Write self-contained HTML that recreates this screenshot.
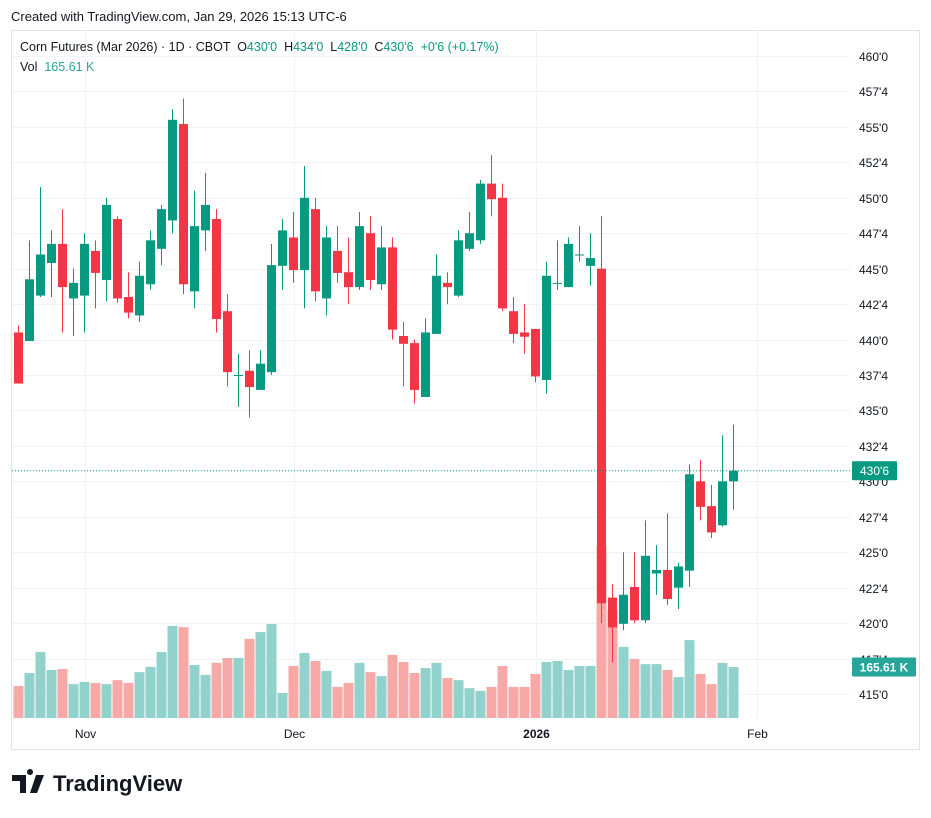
<!DOCTYPE html>
<html><head><meta charset="utf-8">
<style>
html,body{margin:0;padding:0;background:#fff;}
body{width:931px;height:818px;position:relative;overflow:hidden;font-family:"Liberation Sans",sans-serif;}
svg{position:absolute;left:0;top:0;}
text{white-space:pre;}
</style></head>
<body>
<svg id="chart" width="931" height="818" viewBox="0 0 931 818">
  <text x="11" y="21" font-size="13" fill="#131722">Created with TradingView.com, Jan 29, 2026 15:13 UTC-6</text>
  <rect x="11.5" y="30.5" width="908" height="719" fill="none" stroke="#e0e3eb"/>
  <g id="grid"></g>
  <g id="vol"></g>
  <g id="candles"></g>
  <g id="yaxis"></g>
  <g id="xaxis"></g>
  <text x="20" y="51" font-size="12.5" fill="#131722">Corn Futures (Mar 2026) · 1D · CBOT  <tspan>O</tspan><tspan fill="#089981">430'0</tspan>  H<tspan fill="#089981">434'0</tspan>  L<tspan fill="#089981">428'0</tspan>  C<tspan fill="#089981">430'6</tspan>  <tspan fill="#089981">+0'6 (+0.17%)</tspan></text>
  <text x="20" y="71" font-size="12.5" fill="#131722">Vol  <tspan fill="#26a69a">165.61 K</tspan></text>
  <g>
    <path d="M12 775h14v18h-6v-12h-8z M30 775a3 3 0 1 1 0.01 0z M36 775h8l-7 18h-7z" fill="#131722"/>
    <text x="53" y="791" font-size="22" font-weight="bold" fill="#131722">TradingView</text>
  </g>
</svg>
<script>
const opens=[440.5,439.9,443.1,445.4,446.75,442.9,443.1,446.25,444.2,448.5,443.0,441.7,443.9,446.4,448.4,455.2,443.4,447.7,448.5,442.0,437.5,437.8,436.45,437.7,445.2,447.2,444.9,449.2,442.9,446.25,444.75,443.7,447.5,443.9,446.5,440.25,439.75,435.95,440.4,444.0,443.1,446.4,447.0,451.0,450.0,442.0,440.5,440.75,437.15,444.0,443.7,446.0,445.2,445.0,421.8,419.95,422.55,420.2,423.5,423.75,422.5,423.7,430.0,428.25,426.9,430.0];
const highs=[441.0,447.0,450.75,447.7,449.2,445.0,447.5,447.0,450.0,448.7,444.75,445.5,447.7,449.5,456.25,457.0,450.5,451.75,449.2,443.2,439.0,439.25,439.25,446.75,448.5,449.0,452.25,450.0,448.0,448.0,447.2,449.0,448.7,448.0,447.2,441.25,440.0,441.5,446.0,444.75,447.7,449.0,451.25,453.0,451.0,443.0,442.5,440.75,445.5,447.0,447.2,448.0,447.5,448.7,422.75,425.0,425.0,427.25,425.5,427.75,424.25,431.2,431.5,429.75,433.25,434.0];
const lows=[436.9,439.9,443.0,443.0,440.5,440.25,440.5,442.2,442.7,442.6,441.5,441.25,443.5,445.25,447.5,443.2,442.2,446.25,440.5,436.7,435.25,434.5,436.45,437.5,443.5,444.0,442.2,442.7,441.7,444.0,442.5,443.5,443.5,443.5,440.0,436.7,435.5,435.95,440.4,442.5,443.0,446.25,446.75,448.7,442.0,439.75,439.0,437.0,436.2,443.5,443.7,445.5,443.8,420.0,417.25,419.5,420.0,420.0,422.0,421.3,421.0,422.55,427.25,426.0,426.8,428.0];
const closes=[436.9,444.25,446.0,446.75,443.7,444.0,446.75,444.7,449.5,442.9,441.9,444.5,447.0,449.2,455.5,443.9,448.0,449.5,441.45,437.7,437.5,436.65,438.3,445.25,447.7,444.9,450.0,443.4,447.2,444.7,443.7,448.0,444.2,446.5,440.7,439.7,436.45,440.5,444.5,443.7,447.0,447.5,451.0,449.9,442.2,440.4,440.2,437.4,444.5,444.0,446.75,446.0,445.75,421.4,419.7,422.0,420.2,424.75,423.75,421.7,424.0,430.5,428.2,426.4,430.0,430.75];
const volumesK=[104,146,214,156,159,110,117,114,110,123,114,149,166,214,299,295,172,140,179,195,195,257,279,305,81,169,211,185,153,101,114,179,149,136,205,182,146,162,179,130,123,97,88,101,169,101,101,143,182,185,156,169,169,558,351,231,192,175,175,156,133,253,143,110,179,165.61];
const upFlags=[0,1,1,1,0,1,1,0,1,0,0,1,1,1,1,0,1,1,0,0,1,0,1,1,1,0,1,0,1,0,0,1,0,1,0,0,0,1,1,0,1,1,1,0,0,0,0,0,1,1,1,1,1,0,0,1,0,1,1,0,1,1,0,0,1,1];
const priceTicks=[460,457.5,455,452.5,450,447.5,445,442.5,440,437.5,435,432.5,430,427.5,425,422.5,420,417.5,415];
const priceTickLabels=["460'0","457'4","455'0","452'4","450'0","447'4","445'0","442'4","440'0","437'4","435'0","432'4","430'0","427'4","425'0","422'4","420'0","417'4","415'0"];
const timeLabels=["Nov","Dec","2026","Feb"];
const timeLabelIdx=[6,25,47,67.1];
const lastPrice=430.75, lastPriceLabel="430'6", lastVolLabel="165.61 K";

const NS="http://www.w3.org/2000/svg";
const yP=p=>56+(460-p)*14.178;
const xI=i=>18.5+11*i;
const volBase=718, volScale=51/165.61;
const yV=v=>volBase-v*volScale;
function mk(tag,attrs,parent){const e=document.createElementNS(NS,tag);for(const k in attrs)e.setAttribute(k,attrs[k]);parent.appendChild(e);return e;}
const grid=document.getElementById('grid'),vol=document.getElementById('vol'),cg=document.getElementById('candles'),ya=document.getElementById('yaxis'),xa=document.getElementById('xaxis');
priceTicks.forEach((p,i)=>{
  const y=Math.round(yP(p))+0.5;
  const l=mk('line',{x1:12,x2:850,y1:y,y2:y,stroke:'#f0f3fa','stroke-width':1},grid);
  
  
  const t=mk('text',{x:859,y:y+4.5,'font-size':12,fill:'#131722'},ya);
  t.textContent=priceTickLabels[i];
  
  
});
timeLabels.forEach((s,i)=>{
  const x=Math.round(xI(timeLabelIdx[i]))+0.5;
  const l=mk('line',{x1:x,x2:x,y1:31,y2:718,stroke:'#f0f3fa','stroke-width':1},grid);
  
  
  const t=mk('text',{x:x,y:738,'font-size':12,fill:'#131722','text-anchor':'middle','font-weight':s==='2026'?'bold':'normal'},xa);
  t.textContent=s;
  
  
});
volumesK.forEach((v,i)=>{
  const up=upFlags[i]===1;
  const y=yV(v);
  const r=mk('rect',{x:xI(i)-5,y:y,width:10,height:volBase-y,fill:up?'#92d2cc':'#f7a9a7'},vol);
  
  
});
opens.forEach((o,i)=>{
  const c=closes[i],up=upFlags[i]===1,col=up?'#089981':'#f23645';
  const x=xI(i);
  const w=mk('line',{x1:x,x2:x,y1:yP(highs[i]),y2:yP(lows[i]),stroke:col,'stroke-width':1},cg);
  
  
  const top=yP(Math.max(o,c)),h=Math.max(1,yP(Math.min(o,c))-top);
  const b=mk('rect',{x:x-4.5,y:top,width:9,height:h,fill:col},cg);
  
  
});
const ly=yP(lastPrice);
const dl=mk('line',{x1:12,x2:850,y1:ly,y2:ly,stroke:'#089981','stroke-width':1,'stroke-dasharray':'1 2'},ya);


const lb=mk('rect',{x:852,y:ly-9.5,width:45,height:19,fill:'#089981',rx:1},ya);


const lt=mk('text',{x:874.5,y:ly+4.5,'font-size':12,fill:'#fff','text-anchor':'middle'},ya);
lt.textContent=lastPriceLabel;


const vy=yV(volumesK[volumesK.length-1]);
const vb=mk('rect',{x:852,y:vy-9.5,width:64,height:19,fill:'#26a69a',rx:1},ya);


const vt=mk('text',{x:884,y:vy+4.5,'font-size':12,fill:'#fff','text-anchor':'middle','font-weight':'bold'},ya);
vt.textContent=lastVolLabel;


</script>
</body></html>
